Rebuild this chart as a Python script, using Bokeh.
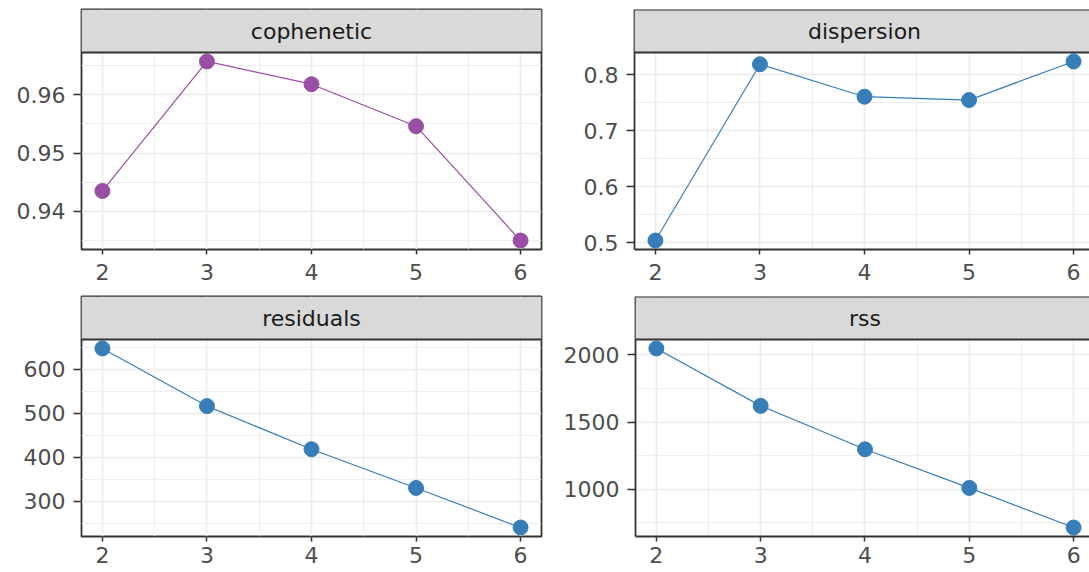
from bokeh.plotting import figure
from bokeh.layouts import column, row
from bokeh.models import FixedTicker, BoxAnnotation, Span, Label, Range1d
from bokeh.embed import file_html
from bokeh.resources import INLINE

# ---- data ----
k = [2, 3, 4, 5, 6]
cophenetic = [0.9435, 0.9657, 0.9618, 0.9546, 0.9350]
dispersion = [0.504, 0.819, 0.761, 0.755, 0.824]
residuals = [647, 516, 418, 330, 240]
rss = [2047, 1620, 1297, 1010, 715]

x_ticks = [2, 3, 4, 5, 6]
x_minor = [2.5, 3.5, 4.5, 5.5]
coph_ticks = [0.94, 0.95, 0.96]
coph_minor = [0.935, 0.945, 0.955, 0.965]
disp_ticks = [0.5, 0.6, 0.7, 0.8]
disp_minor = [0.55, 0.65, 0.75]
res_ticks = [300, 400, 500, 600]
res_minor = [250, 350, 450, 550, 650]
rss_ticks = [1000, 1500, 2000]
rss_minor = [750, 1250, 1750]

PURPLE = "#984EA3"
BLUE = "#377EB8"
BORDER = "#333333"
GRID = "#EBEBEB"
STRIP = "#D9D9D9"
FONT = "DejaVu Sans"
FS = "22px"

FRAME_H = 240
STRIP_H = 43


def panel(name, vals, color, yt, ym, right_col, bottom_row):
    lo_v, hi_v = min(vals), max(vals)
    pad = 0.05 * (hi_v - lo_v)
    lo, hi = lo_v - pad, hi_v + pad
    panel_h = FRAME_H - STRIP_H
    top = hi + (hi - lo) * STRIP_H / panel_h
    xpad = 0.05 * (max(k) - min(k))
    x0, x1 = min(k) - xpad, max(k) + xpad
    if right_col:
        width, mbl, mbr = 529, 74, 0
        x_end = x0 + (x1 - x0) * 455 / 460
    else:
        width, mbl, mbr = 560, 81, 19
        x_end = x1
    if bottom_row:
        height, mbt, mbb, stand = 277, 1, 36, 5
    else:
        height, mbt, mbb, stand = 295, 9, 46, 9

    p = figure(width=width, height=height, title=None,
               x_range=Range1d(x0, x_end), y_range=Range1d(lo, top),
               toolbar_location=None, output_backend="svg",
               min_border_left=mbl, min_border_right=mbr,
               min_border_top=mbt, min_border_bottom=mbb,
               background_fill_color="white", border_fill_color="white")

    xt = FixedTicker(ticks=x_ticks, minor_ticks=x_minor)
    ytk = FixedTicker(ticks=yt, minor_ticks=ym)
    p.xaxis.ticker = xt
    p.xgrid.ticker = xt
    p.yaxis.ticker = ytk
    p.ygrid.ticker = ytk

    for ax in (p.xaxis, p.yaxis):
        ax.major_label_text_font = FONT
        ax.major_label_text_font_size = FS
        ax.major_label_text_color = "#4D4D4D"
        ax.major_tick_line_color = BORDER
        ax.major_tick_line_width = 1.5
        ax.major_tick_in = 0
        ax.minor_tick_line_color = None
        ax.axis_line_color = BORDER if right_col else None
        ax.axis_line_width = 1.8
    p.xaxis.major_tick_out = 5
    p.xaxis.major_label_standoff = stand
    p.yaxis.major_tick_out = 8
    p.yaxis.major_label_standoff = 8

    for g in (p.xgrid, p.ygrid):
        g.grid_line_color = GRID
        g.grid_line_width = 1.6
        g.minor_grid_line_color = GRID
        g.minor_grid_line_width = 0.9

    if right_col:
        p.outline_line_color = None
    else:
        p.outline_line_color = BORDER
        p.outline_line_width = 1.8

    p.line(k, vals, line_color=color, line_width=1.2)
    p.scatter(k, vals, size=15, fill_color=color, line_color=color)

    p.add_layout(BoxAnnotation(bottom=hi, fill_color=STRIP, fill_alpha=1.0,
                               line_color=None))
    p.add_layout(Span(location=hi, dimension="width", line_color=BORDER,
                      line_width=1.8))
    if right_col:
        p.add_layout(Span(location=top, dimension="width", line_color=BORDER,
                          line_width=1.8))
    p.add_layout(Label(x=(x0 + x1) / 2, y=(hi + top) / 2, text=name,
                       text_align="center", text_baseline="middle",
                       text_font=FONT, text_font_size=FS,
                       text_color="#1A1A1A"))
    return p


p1 = panel("cophenetic", cophenetic, PURPLE, coph_ticks, coph_minor, False, False)
p2 = panel("dispersion", dispersion, BLUE, disp_ticks, disp_minor, True, False)
p3 = panel("residuals", residuals, BLUE, res_ticks, res_minor, False, True)
p4 = panel("rss", rss, BLUE, rss_ticks, rss_minor, True, True)

layout = column(row(p1, p2), row(p3, p4))
open("out.html", "w").write(file_html(layout, INLINE))
